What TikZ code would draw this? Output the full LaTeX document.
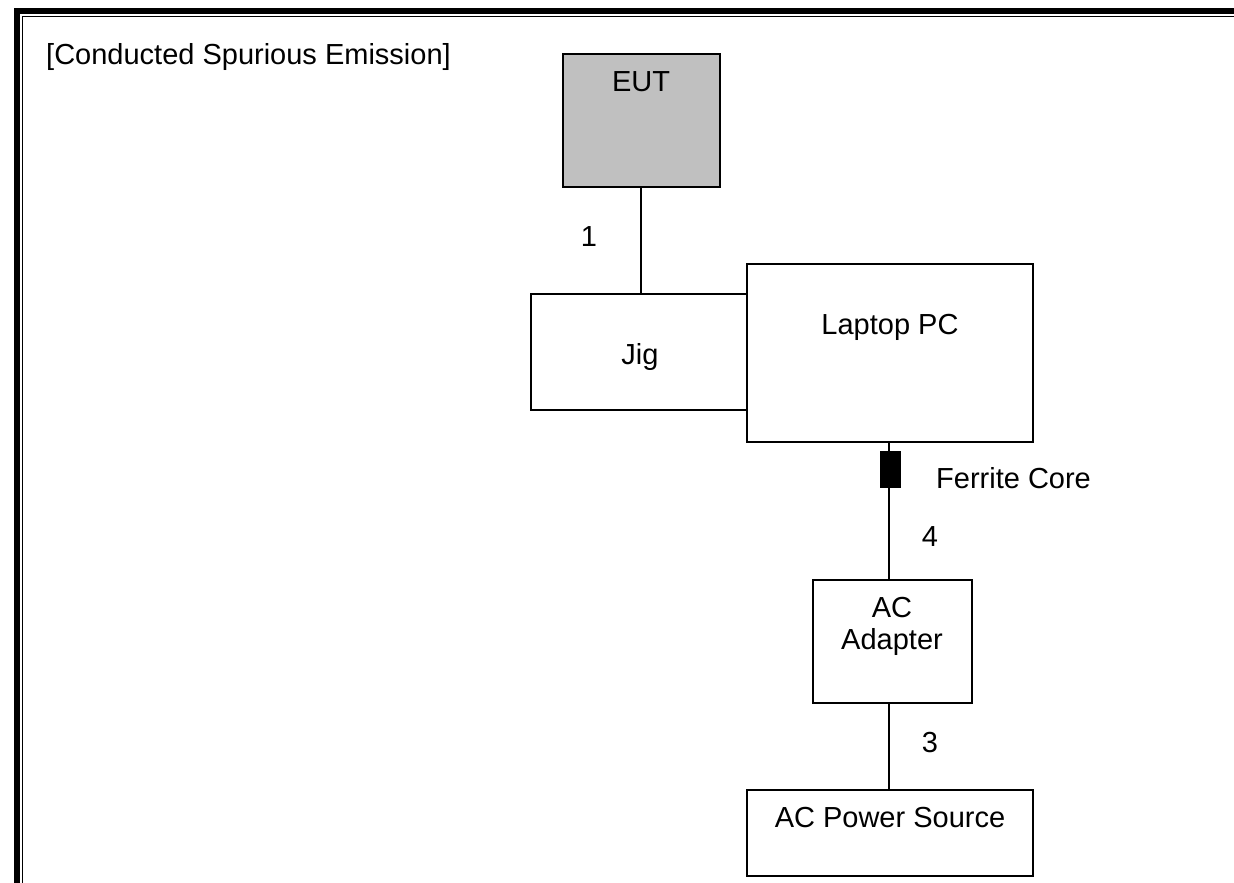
\documentclass[tikz,border=0pt]{standalone}
\usepackage{fontspec}
\setmainfont{Liberation Sans}
\begin{document}
\begin{tikzpicture}[x=1pt,y=-1pt,
  every node/.style={font=\fontsize{29}{34}\selectfont},
  unit/.style={draw=black, line width=2pt, inner sep=0pt, outer sep=0pt},
  wire/.style={line width=1.8pt},
  tag/.style={inner sep=0pt, anchor=center}]
\useasboundingbox (0,0) rectangle (1234,883);
% page frame: thick outer rule and thin inner rule
\fill (13.5,8) rectangle (20,883);
\fill (13.5,8) rectangle (1234,14);
\fill (21.5,16) rectangle (23,883);
\fill (21.5,16) rectangle (1234,17.5);

\node[tag, anchor=west] (title) at (46,57) {[Conducted Spurious Emission]};

% equipment
\node[unit, fill={rgb,255:red,192;green,192;blue,192}, minimum width=157pt, minimum height=133pt] (eut) at (641.5,120.5) {};
\node[tag] (euttxt) at (641,82) {EUT};
\node[unit, minimum width=216pt, minimum height=116pt] (jig) at (639,352) {};
\node[tag] (jigtxt) at (640,357) {Jig};
\node[unit, minimum width=286pt, minimum height=178pt] (pc) at (890,353) {};
\node[tag] (pctxt) at (890,327) {Laptop PC};
\node[unit, fill=black, minimum width=19pt, minimum height=35pt] (core) at (890.5,469.5) {};
\node[tag, anchor=west] (coretxt) at (936,478) {Ferrite Core};
\node[unit, minimum width=159pt, minimum height=123pt] (adp) at (892.5,641.5) {};
\node[tag, align=center, font=\fontsize{29}{32}\selectfont] (adptxt) at (892,626) {AC\\Adapter};
\node[unit, minimum width=286pt, minimum height=86pt] (src) at (890,833) {};
\node[tag] (srctxt) at (890,818) {AC Power Source};

% cables
\coordinate (c1) at (641,187);
\draw[wire] (c1) -- (c1 |- jig.north);
\coordinate (c4) at (889,442);
\draw[wire] (c4) -- (c4 |- core.north);
\draw[wire] (c4 |- core.south) -- (c4 |- adp.north);
\draw[wire] (c4 |- adp.south) -- (c4 |- src.north);

% cable numbers
\node[tag] (n1) at (589,237) {1};
\node[tag] (n4) at (930,537) {4};
\node[tag] (n3) at (930,743) {3};
\end{tikzpicture}
\end{document}
